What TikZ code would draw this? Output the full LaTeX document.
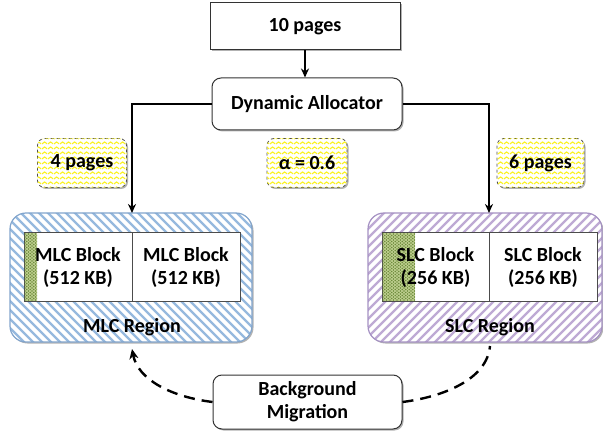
\documentclass[tikz,border=0pt]{standalone}
\usepackage{fontspec}
\setmainfont{Carlito}
\usetikzlibrary{arrows.meta,shadows,patterns.meta}
\definecolor{mlcline}{RGB}{150,185,222}
\definecolor{mlcborder}{RGB}{130,165,205}
\definecolor{slcline}{RGB}{190,170,212}
\definecolor{slcborder}{RGB}{165,145,195}
\definecolor{stripgreen}{RGB}{192,208,145}
\definecolor{dotgreen}{RGB}{110,140,60}
\definecolor{wavyellow}{RGB}{250,242,30}
\tikzdeclarepattern{
  name=wavy,
  type=uncolored,
  bounding box={(0pt,0pt) and (6pt,4.5pt)},
  tile size={(6pt,4.5pt)},
  code={
    \draw[line width=1.2pt] (0pt,1.2pt) -- (3pt,3.3pt) -- (6pt,1.2pt);
  }
}
\begin{document}
\begin{tikzpicture}[x=1pt,y=-1pt,
  font=\fontsize{20}{23}\selectfont\bfseries,
  shadowed/.style={drop shadow={shadow xshift=1.5pt,shadow yshift=-1.5pt,opacity=0.3,fill=black}},
  plainbox/.style={draw=black!80,line width=1pt,fill=white,shadowed,inner sep=0pt,align=center},
  roundbox/.style={plainbox,rounded corners=9pt},
  tagbox/.style={draw=black!70,dashed,line width=0.8pt,rounded corners=7pt,fill=white,
    postaction={pattern=wavy,pattern color=wavyellow},shadowed,minimum height=49pt,inner sep=0pt},
  region/.style={line width=1.2pt,rounded corners=16pt,fill=white,
    shadowed,minimum height=129pt,inner sep=0pt,outer sep=0pt},
  stripeM/.style={draw=mlcline,line width=2.2pt},
  stripeS/.style={draw=slcline,line width=2.2pt},
  blk/.style={draw=black!70,line width=1pt,fill=white,minimum height=68pt,inner sep=0pt,outer sep=0pt},
  strip/.style={fill=stripgreen,minimum height=67pt,inner sep=0pt,outer sep=0pt,anchor=west},
  gdot/.style={fill=dotgreen},
  txt/.style={align=center,inner sep=0pt},
  conn/.style={line width=2pt,-{Stealth[length=9pt,width=8pt]}},
  mig/.style={line width=2.4pt,dash pattern=on 11pt off 7pt},
]
\useasboundingbox (0,0) rectangle (603,433);

% top boxes
\node[plainbox,minimum width=190pt,minimum height=47pt] (top) at (305,26.5) {10 pages};
\node[roundbox,minimum width=190pt,minimum height=52pt] (alloc) at (307,104) {Dynamic Allocator};

% tags
\node[tagbox,minimum width=89pt] (tag4) at (82,163) {4 pages};
\node[tagbox,minimum width=80pt] (taga) at (307,163) {α = 0.6};
\node[tagbox,minimum width=87pt] (tag6) at (540.5,163) {6 pages};

% regions
\node[region,minimum width=242pt] (mlc) at (131,277.5) {};
\node[region,minimum width=234pt] (slc) at (485,277.5) {};
\begin{scope}
  \clip[rounded corners=16pt] (mlc.north west) rectangle (mlc.south east);
  \foreach \i in {-140,-131,...,260} \draw[stripeM] (\i,205) -- ++(145,145);
\end{scope}
\begin{scope}
  \clip[rounded corners=16pt] (slc.north west) rectangle (slc.south east);
  \foreach \i in {220,229,...,620} \draw[stripeS] (\i,350) -- ++(145,-145);
\end{scope}
\draw[mlcborder,line width=1.2pt,rounded corners=16pt] (mlc.north west) rectangle (mlc.south east);
\draw[slcborder,line width=1.2pt,rounded corners=16pt] (slc.north west) rectangle (slc.south east);

% blocks
\node[blk,minimum width=108pt] (mlcA) at (78,267) {};
\node[blk,minimum width=108pt] (mlcB) at (186,267) {};
\node[blk,minimum width=107pt] (slcA) at (435.5,267) {};
\node[blk,minimum width=108pt] (slcB) at (543,267) {};

\node[strip,minimum width=12.5pt] (mlcS) at ([xshift=0.5pt]mlcA.west) {};
\node[strip,minimum width=32.5pt] (slcS) at ([xshift=0.5pt]slcA.west) {};
\begin{scope}
  \clip (mlcS.north west) rectangle (mlcS.south east);
  \foreach \yy in {234,237,...,302} {
    \foreach \xx in {25,28.5,...,38} \fill[gdot] (\xx,\yy) circle (0.9pt);
    \foreach \xx in {26.75,30.25,...,38} \fill[gdot] (\xx,\yy+1.5) circle (0.9pt);
  }
\end{scope}
\begin{scope}
  \clip (slcS.north west) rectangle (slcS.south east);
  \foreach \yy in {234,237,...,302} {
    \foreach \xx in {383,386.5,...,416} \fill[gdot] (\xx,\yy) circle (0.9pt);
    \foreach \xx in {384.75,388.25,...,416} \fill[gdot] (\xx,\yy+1.5) circle (0.9pt);
  }
\end{scope}

\node[txt] (mlcAt) at (mlcA.center) {MLC Block\\(512 KB)};
\node[txt] (mlcBt) at (mlcB.center) {MLC Block\\(512 KB)};
\node[txt] (slcAt) at (slcA.center) {SLC Block\\(256 KB)};
\node[txt] (slcBt) at (slcB.center) {SLC Block\\(256 KB)};

\node[txt] (mlcR) at (132,327) {MLC Region};
\node[txt] (slcR) at (490,327) {SLC Region};

% migration
\node[roundbox,minimum width=189pt,minimum height=54pt] (bm) at (307.5,402) {Background\\Migration};

% connectors
\draw[conn] (top.south) -- (top.south |- alloc.north);
\draw[conn] (alloc.west) -| (mlcA.east |- mlc.north);
\draw[conn] (alloc.east) -| (slcA.east |- slc.north);

\coordinate (mlcIn) at (132,349);
\coordinate (slcOut) at (490,346);
\draw[mig,-{Stealth[length=10pt,width=9pt]}] (bm.west) .. controls (172,397) and (138,380) .. (mlcIn);
\draw[mig] (bm.east) .. controls (442,397) and (487,380) .. (slcOut);
\end{tikzpicture}
\end{document}
